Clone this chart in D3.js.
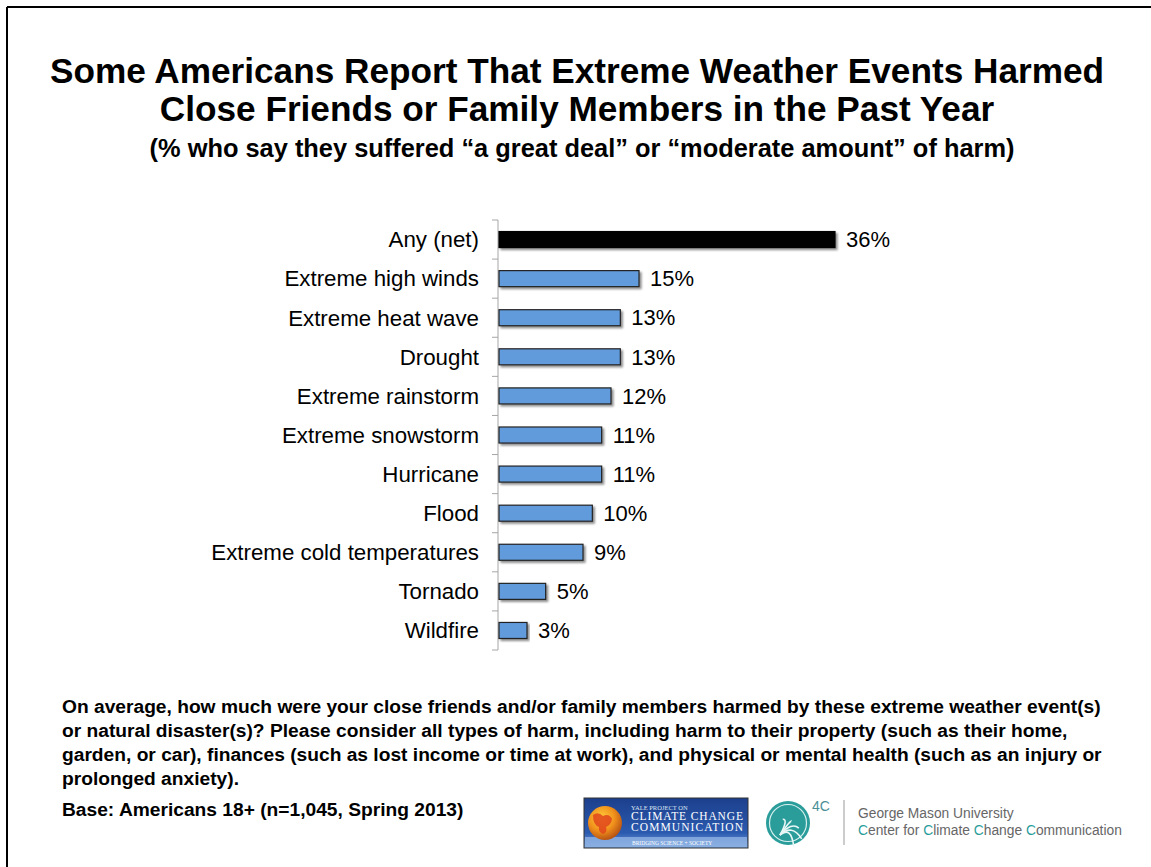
<!DOCTYPE html>
<html>
<head>
<meta charset="utf-8">
<script src="https://cdn.jsdelivr.net/npm/d3@7"></script>
<style>
  html, body { margin: 0; padding: 0; background: #fff; }
  svg { display: block; font-family: "Liberation Sans", Arial, Helvetica, sans-serif; }
</style>
</head>
<body>
<svg id="chart" width="1151" height="867"></svg>
<script>
const categories = ["Any (net)", "Extreme high winds", "Extreme heat wave", "Drought", "Extreme rainstorm",
  "Extreme snowstorm", "Hurricane", "Flood", "Extreme cold temperatures", "Tornado", "Wildfire"];
const values = [36, 15, 13, 13, 12, 11, 11, 10, 9, 5, 3];
const valueLabels = ["36%", "15%", "13%", "13%", "12%", "11%", "11%", "10%", "9%", "5%", "3%"];
const titleLines = ["Some Americans Report That Extreme Weather Events Harmed", "Close Friends or Family Members in the Past Year"];
const subtitle = "(% who say they suffered \u201ca great deal\u201d or \u201cmoderate amount\u201d of harm)";
const noteLines = [
  "On average, how much were your close friends and/or family members harmed by these extreme weather event(s)",
  "or natural disaster(s)? Please consider all types of harm, including harm to their property (such as their home,",
  "garden, or car), finances (such as lost income or time at work), and physical or mental health (such as an injury or",
  "prolonged anxiety)."
];
const baseNote = "Base: Americans 18+ (n=1,045, Spring 2013)";

const svg = d3.select("#chart");
const W = 1151, H = 867;

// frame (top and left edges)
svg.append("line").attr("x1", 7).attr("x2", W).attr("y1", 7).attr("y2", 7).attr("stroke", "#000").attr("stroke-width", 2);
svg.append("line").attr("x1", 7).attr("x2", 7).attr("y1", 7).attr("y2", H).attr("stroke", "#000").attr("stroke-width", 2);

// defs
const defs = svg.append("defs");
const sh = defs.append("filter").attr("id", "shadow").attr("x", "-5%").attr("y", "-30%").attr("width", "115%").attr("height", "180%");
sh.append("feGaussianBlur").attr("in", "SourceAlpha").attr("stdDeviation", 1.2).attr("result", "b");
sh.append("feOffset").attr("in", "b").attr("dx", 1.5).attr("dy", 1.5).attr("result", "o");
sh.append("feComponentTransfer").attr("in", "o").attr("result", "o2").append("feFuncA").attr("type", "linear").attr("slope", 0.45);
const mg = sh.append("feMerge");
mg.append("feMergeNode").attr("in", "o2");
mg.append("feMergeNode").attr("in", "SourceGraphic");

// titles
svg.append("g").selectAll("text").data(titleLines).join("text")
  .attr("x", 577).attr("y", (d, i) => 83 + i * 38)
  .attr("text-anchor", "middle").attr("font-weight", "bold").attr("font-size", 35.2)
  .attr("fill", "#000").text(d => d);
svg.append("text").attr("x", 582).attr("y", 157).attr("text-anchor", "middle")
  .attr("font-weight", "bold").attr("font-size", 25.4).attr("fill", "#000").text(subtitle);

// scales
const x = d3.scaleLinear().domain([0, 36]).range([499, 835]);
const y = d3.scaleBand().domain(categories).range([220, 650]).paddingInner(0).paddingOuter(0);
const barH = y.bandwidth() * 0.41;

// axis with ticks at band boundaries
const axisG = svg.append("g");
axisG.append("line").attr("x1", 498).attr("x2", 498).attr("y1", 220).attr("y2", 650)
  .attr("stroke", "#a6a6a6").attr("stroke-width", 1);
const boundaries = categories.map(c => y(c)).concat([y(categories[categories.length - 1]) + y.step()]);
axisG.selectAll("line.tick").data(boundaries).join("line").attr("class", "tick")
  .attr("x1", 492).attr("x2", 498).attr("y1", d => d).attr("y2", d => d)
  .attr("stroke", "#a6a6a6").attr("stroke-width", 1);

// bars
svg.append("g").selectAll("rect").data(categories).join("rect")
  .attr("x", x(0))
  .attr("y", d => y(d) + (y.bandwidth() - barH) / 2)
  .attr("width", (d, i) => x(values[i]) - x(0))
  .attr("height", barH)
  .attr("fill", (d, i) => i === 0 ? "#000" : "#629bdc")
  .attr("stroke", (d, i) => i === 0 ? "#000" : "#222")
  .attr("stroke-width", 1.2)
  .attr("filter", "url(#shadow)");

// category labels
svg.append("g").selectAll("text").data(categories).join("text")
  .attr("x", 479).attr("y", d => y(d) + y.bandwidth() / 2)
  .attr("dy", "0.35em").attr("text-anchor", "end").attr("font-size", 22.3).attr("fill", "#000")
  .text(d => d);

// value labels
svg.append("g").selectAll("text").data(categories).join("text")
  .attr("x", (d, i) => x(values[i]) + 11).attr("y", d => y(d) + y.bandwidth() / 2)
  .attr("dy", "0.35em").attr("font-size", 22).attr("fill", "#000")
  .text((d, i) => valueLabels[i]);

// notes
svg.append("g").selectAll("text").data(noteLines).join("text")
  .attr("x", 62).attr("y", (d, i) => 713 + i * 24)
  .attr("font-weight", "bold").attr("font-size", 19.2).attr("fill", "#000").text(d => d);
svg.append("text").attr("x", 62).attr("y", 816).attr("font-weight", "bold").attr("font-size", 19.2)
  .attr("fill", "#000").text(baseNote);

// Yale logo
const yg = svg.append("g");
const lg = defs.append("linearGradient").attr("id", "yaleBg").attr("x1", 0).attr("y1", 0).attr("x2", 0).attr("y2", 1);
lg.append("stop").attr("offset", "0%").attr("stop-color", "#1c3f8c");
lg.append("stop").attr("offset", "70%").attr("stop-color", "#2b5bb0");
lg.append("stop").attr("offset", "100%").attr("stop-color", "#7aa3dc");
yg.append("rect").attr("x", 584).attr("y", 798).attr("width", 164).attr("height", 50)
  .attr("fill", "url(#yaleBg)").attr("stroke", "#333").attr("stroke-width", 1);
yg.append("rect").attr("x", 585).attr("y", 837).attr("width", 162).attr("height", 10).attr("fill", "#8fb3e3").attr("opacity", 0.8);
const rg = defs.append("radialGradient").attr("id", "globe").attr("cx", "40%").attr("cy", "35%").attr("r", "70%");
rg.append("stop").attr("offset", "0%").attr("stop-color", "#ffcf3a");
rg.append("stop").attr("offset", "55%").attr("stop-color", "#f0901c");
rg.append("stop").attr("offset", "100%").attr("stop-color", "#b04a12");
yg.append("circle").attr("cx", 605).attr("cy", 823).attr("r", 17).attr("fill", "url(#globe)");
yg.append("path").attr("d", "M593,815 q5,-4 10,1 q6,-3 9,3 q-1,6 -6,8 q2,5 -3,7 q-5,-2 -4,-7 q-6,-2 -6,-12 z").attr("fill", "#e0451c").attr("opacity", 0.85);
yg.append("text").attr("x", 631).attr("y", 810).attr("font-family", "Liberation Serif, serif").attr("font-size", 6.5).attr("fill", "#dde6f5").text("YALE PROJECT ON");
yg.append("text").attr("x", 631).attr("y", 820).attr("font-family", "Liberation Serif, serif").attr("font-size", 11.5).attr("fill", "#fff").attr("textLength", 112).text("CLIMATE CHANGE");
yg.append("text").attr("x", 631).attr("y", 831).attr("font-family", "Liberation Serif, serif").attr("font-size", 11.5).attr("fill", "#fff").attr("textLength", 112).text("COMMUNICATION");
yg.append("text").attr("x", 632).attr("y", 845).attr("font-family", "Liberation Serif, serif").attr("font-size", 5.5).attr("fill", "#fff").text("BRIDGING SCIENCE + SOCIETY");

// 4C logo
const cx4 = 788, cy4 = 823;
const fg = svg.append("g");
fg.append("circle").attr("cx", cx4).attr("cy", cy4).attr("r", 22).attr("fill", "#2a9d9b");
fg.append("circle").attr("cx", cx4).attr("cy", cy4).attr("r", 18.5).attr("fill", "none").attr("stroke", "#d9f0ef").attr("stroke-width", 1.2);
[[-40, 10], [-10, 14], [20, 12], [50, 10], [80, 8]].forEach(([a, l]) => {
  const r = a * Math.PI / 180;
  fg.append("path")
    .attr("d", `M${cx4 - 8},${cy4 + 12} Q${cx4 + Math.cos(r) * 4},${cy4 - Math.sin(r) * 4} ${cx4 - 8 + Math.cos(r) * (l + 8)},${cy4 + 12 - Math.sin(r) * (l + 8)}`)
    .attr("fill", "none").attr("stroke", "#e8f6f5").attr("stroke-width", 1.6);
});
fg.append("text").attr("x", 812).attr("y", 811).attr("font-size", 14).attr("fill", "#4a8f96").text("4C");
fg.append("line").attr("x1", 844).attr("x2", 844).attr("y1", 800).attr("y2", 845).attr("stroke", "#999").attr("stroke-width", 1);
fg.append("text").attr("x", 858).attr("y", 818).attr("font-size", 13.8).attr("fill", "#666").text("George Mason University");
const ct = fg.append("text").attr("x", 858).attr("y", 835).attr("font-size", 13.8).attr("fill", "#666");
[["C", true], ["enter for ", false], ["C", true], ["limate ", false], ["C", true], ["hange ", false], ["C", true], ["ommunication", false]]
  .forEach(([t, teal]) => ct.append("tspan").attr("fill", teal ? "#2a9d9b" : "#666").text(t));
</script>
</body>
</html>
